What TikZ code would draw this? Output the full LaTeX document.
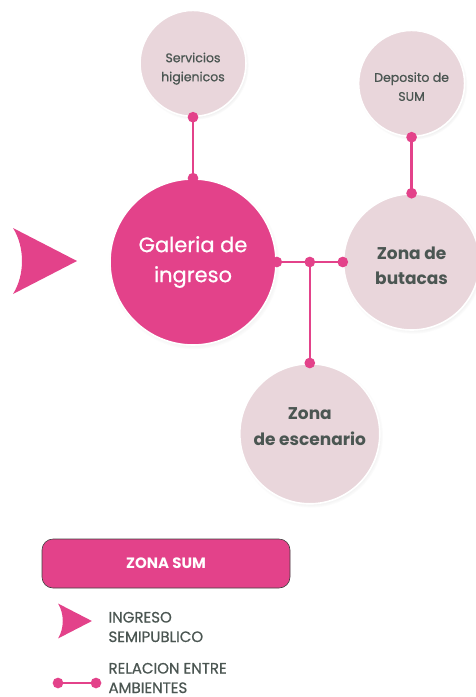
\documentclass[tikz,border=0pt]{standalone}
\usepackage{fontspec}
\setmainfont{Poppins}
\newfontfamily\medfont{Poppins}[FakeBold=0.7]
\usetikzlibrary{
positioning,
arrows.meta,
shadows,
calc
}
\definecolor{sumpink}{HTML}{E3428A}
\definecolor{roomfill}{HTML}{E9D6DB}
\definecolor{roomtext}{HTML}{4B5652}
\tikzset{
room/.style={
circle,
draw=white,
line width=1.6pt,
fill=roomfill,
text=roomtext,
align=center,
inner sep=0pt,
circular drop shadow={shadow scale=1.03, shadow xshift=1.2pt, shadow yshift=-1.8pt, opacity=.25}
},
hall/.style={
room,
fill=sumpink,
text=white
},
link/.style={
draw=sumpink,
line width=2.6pt,
{Circle[length=10.5pt]}-{Circle[length=10.5pt]},
shorten <=-5.25pt,
shorten >=-5.25pt
},
keybox/.style={
draw=black!75,
line width=.6pt,
rounded corners=11pt,
fill=sumpink,
text=white,
font=\bfseries\fontsize{15}{17}\selectfont,
minimum width=248pt,
minimum height=49pt
},
keytext/.style={
anchor=west,
align=left,
text=roomtext,
font=\medfont\fontsize{15}{19.5}\selectfont
},
dart/.pic={
\fill[sumpink] (0,-33) .. controls (12,-14) and (12,14) .. (0,33) -- (64,0) -- cycle;
}
}

\begin{document}
\begin{tikzpicture}[x=1pt, y=-1pt]
\useasboundingbox (0,0) rectangle (476,697);

% spaces
\node[hall, minimum size=166pt, font=\medfont\fontsize{21}{30}\selectfont] (gal) at (193,262) {Galeria de\\ingreso};
\node[room, minimum size=106pt, text height=39pt, font=\medfont\fontsize{12.5}{19}\selectfont, above=61pt of gal] (ser) {Servicios\\higienicos};
\node[room, minimum size=136pt, text height=45pt, font=\bfseries\fontsize{17}{25}\selectfont, right=66pt of gal] (but) {Zona de\\butacas};
\node[room, minimum size=106pt, text height=35pt, font=\medfont\fontsize{12.5}{19}\selectfont, above=56pt of but] (dep) {Deposito de\\SUM};
\coordinate (jn) at ($(gal.east)!.5!(but.west)$);
\node[room, minimum size=140pt, text height=24pt, font=\bfseries\fontsize{17}{26}\selectfont, below=101pt of jn] (esc) {Zona\\de escenario};

% entrance
\pic at (13,261) {dart};

% relations
\draw[link] (ser.south) -- (gal.north);
\draw[link] (dep.south) -- (but.north);
\draw[link] (gal.east) -- (but.west);
\draw[link] (jn) -- (esc.north);

% legend
\node[keybox] (zsum) at (166,563.5) {ZONA SUM};
\pic[scale=.53] at (58,621) {dart};
\node[keytext] (kin) at (105,627) {INGRESO\\SEMIPUBLICO};
\coordinate (ka) at (58,683);
\coordinate (kb) at (96,683);
\draw[link] (ka) -- (kb);
\node[keytext] (krel) at (105,678) {RELACION ENTRE\\AMBIENTES};
\end{tikzpicture}
\end{document}
